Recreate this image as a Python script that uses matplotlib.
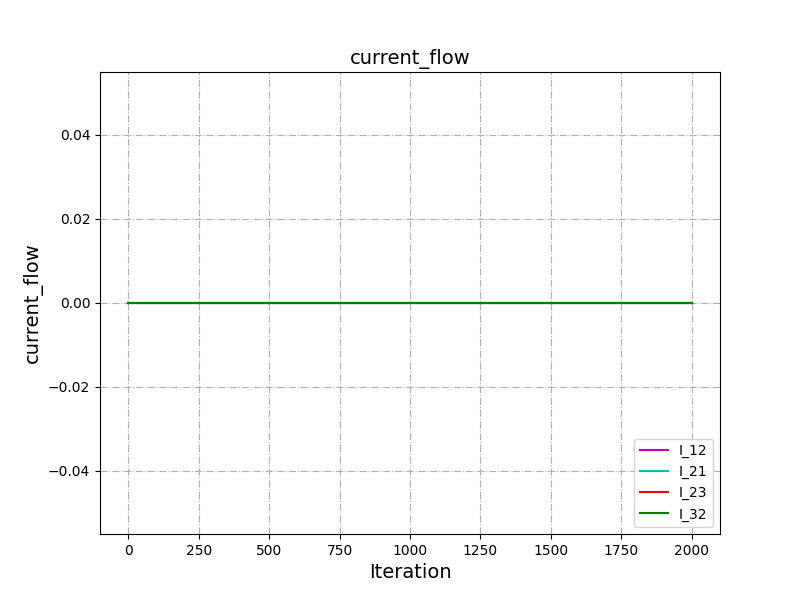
import matplotlib
matplotlib.use("Agg")
import matplotlib.pyplot as plt

iterations = [0, 500, 1000, 1500, 2000]
I_12 = [0.0, 0.0, 0.0, 0.0, 0.0]
I_21 = [0.0, 0.0, 0.0, 0.0, 0.0]
I_23 = [0.0, 0.0, 0.0, 0.0, 0.0]
I_32 = [0.0, 0.0, 0.0, 0.0, 0.0]

fig, ax = plt.subplots(figsize=(8, 6), dpi=100)
ax.plot(iterations, I_12, color='m', label='I_12')
ax.plot(iterations, I_21, color='c', label='I_21')
ax.plot(iterations, I_23, color='r', label='I_23')
ax.plot(iterations, I_32, color='g', label='I_32')
ax.grid(True, linestyle='-.')
ax.set_title('current_flow', fontsize=14)
ax.set_xlabel('Iteration', fontsize=14)
ax.set_ylabel('current_flow', fontsize=14)
ax.legend(loc='lower right')
fig.savefig('out.png')
